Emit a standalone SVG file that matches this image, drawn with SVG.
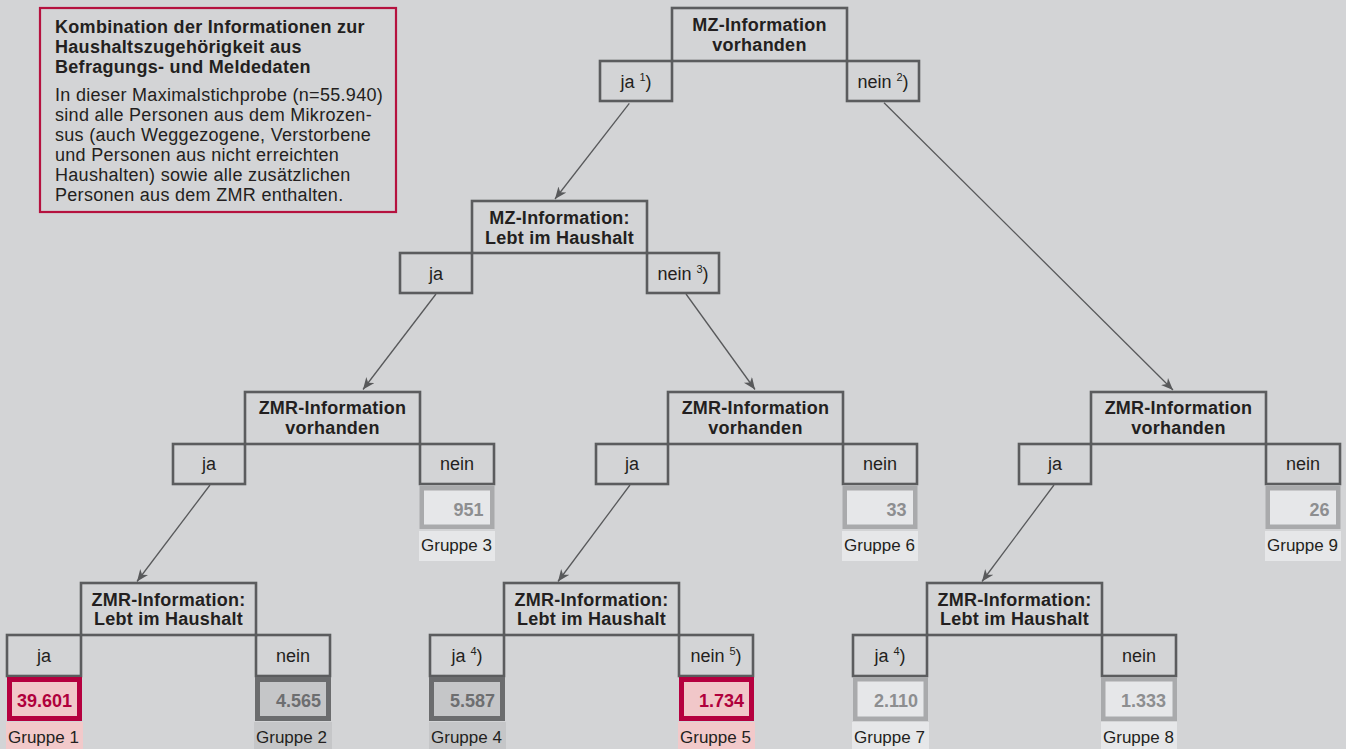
<svg xmlns="http://www.w3.org/2000/svg" width="1346" height="749" viewBox="0 0 1346 749">
<defs>
<style>
.bg{fill:#d3d4d6}
.box{fill:none;stroke:#5b5c5e;stroke-width:2.6}
.t{font-family:"Liberation Sans",Arial,Helvetica,sans-serif;fill:#231f20}
.b{font-weight:bold;font-size:18px;text-anchor:middle;letter-spacing:0.25px}
.r{font-size:18px;text-anchor:middle}
.sup{font-size:11px}
.num{font-family:"Liberation Sans",Arial,Helvetica,sans-serif;font-weight:bold;font-size:18px;text-anchor:end}
.grp{font-family:"Liberation Sans",Arial,Helvetica,sans-serif;font-size:17px;fill:#231f20}
.info{fill:none;stroke:#b5123f;stroke-width:2.2}
.it{font-family:"Liberation Sans",Arial,Helvetica,sans-serif;font-size:18px;fill:#231f20;letter-spacing:0.3px}
.red .o{fill:#f1c7c9;stroke:#b5003f;stroke-width:5}
.red .l{fill:#f2c9ca}
.red .num{fill:#b0003c}
.dark .o{fill:#c5c6c8;stroke:#6b6c6e;stroke-width:5}
.dark .l{fill:#c5c6c8}
.dark .num{fill:#6d6e70}
.light .o{fill:#e6e7e9;stroke:#a9aaac;stroke-width:4.5}
.light .l{fill:#e6e7e9}
.light .num{fill:#8d8e90}
.conn line{stroke:#58595b;stroke-width:1.3;fill:none}
</style>
<marker id="arr" markerUnits="userSpaceOnUse" markerWidth="13" markerHeight="11" refX="12" refY="5" orient="auto">
<path d="M0,0 L12,5 L0,10 L3.5,5 Z" fill="#58595b"/>
</marker>
</defs>
<rect class="bg" x="0" y="0" width="1346" height="749"/>

<g id="info">
<rect class="info" x="40" y="8" width="356" height="204"/>
<text class="it" font-weight="bold" x="55" y="32.5">Kombination der Informationen zur</text>
<text class="it" font-weight="bold" x="55" y="52.5">Haushaltszugehörigkeit aus</text>
<text class="it" font-weight="bold" x="55" y="72.5">Befragungs- und Meldedaten</text>
<text class="it" x="55" y="100.5">In dieser Maximalstichprobe (n=55.940)</text>
<text class="it" x="55" y="120.5">sind alle Personen aus dem Mikrozen-</text>
<text class="it" x="55" y="140.5">sus (auch Weggezogene, Verstorbene</text>
<text class="it" x="55" y="160.5">und Personen aus nicht erreichten</text>
<text class="it" x="55" y="180.5">Haushalten) sowie alle zusätzlichen</text>
<text class="it" x="55" y="200.5">Personen aus dem ZMR enthalten.</text>
</g>

<g id="connectors" class="conn">
<line x1="629.3" y1="103.3" x2="555" y2="199" marker-end="url(#arr)"/>
<line x1="884" y1="102.7" x2="1173" y2="390" marker-end="url(#arr)"/>
<line x1="436" y1="294" x2="363" y2="389.5" marker-end="url(#arr)"/>
<line x1="686" y1="294" x2="755" y2="389.5" marker-end="url(#arr)"/>
<line x1="210" y1="485" x2="137" y2="581.5" marker-end="url(#arr)"/>
<line x1="630" y1="485" x2="558" y2="581.5" marker-end="url(#arr)"/>
<line x1="1054" y1="485" x2="982" y2="581.5" marker-end="url(#arr)"/>
</g>

<g id="node-mz-vorhanden">
<rect class="box" x="672" y="8" width="175" height="53"/>
<text class="t b" x="759.5" y="31">MZ-Information</text>
<text class="t b" x="759.5" y="51">vorhanden</text>
<rect class="box" x="600" y="61" width="72" height="40"/>
<text class="t r" x="636" y="87.5">ja <tspan class="sup" dy="-7">1</tspan><tspan dy="7">)</tspan></text>
<rect class="box" x="847" y="61" width="72" height="40"/>
<text class="t r" x="883" y="87.5">nein <tspan class="sup" dy="-7">2</tspan><tspan dy="7">)</tspan></text>
</g>

<g id="node-mz-lebt">
<rect class="box" x="472" y="201" width="175" height="52"/>
<text class="t b" x="559.5" y="224">MZ-Information:</text>
<text class="t b" x="559.5" y="243.5">Lebt im Haushalt</text>
<rect class="box" x="400" y="253" width="72" height="40"/>
<text class="t r" x="436" y="279.5">ja</text>
<rect class="box" x="647" y="253" width="72" height="40"/>
<text class="t r" x="683" y="279.5">nein <tspan class="sup" dy="-7">3</tspan><tspan dy="7">)</tspan></text>
</g>

<g id="node-zmr-vorhanden-1">
<rect class="box" x="245" y="392" width="175" height="52"/>
<text class="t b" x="332.5" y="413.5">ZMR-Information</text>
<text class="t b" x="332.5" y="433.5">vorhanden</text>
<rect class="box" x="173" y="444" width="72" height="40"/>
<text class="t r" x="209" y="469.5">ja</text>
<rect class="box" x="420" y="444" width="74" height="40"/>
<text class="t r" x="457" y="469.5">nein</text>
</g>
<g id="gruppe-3" class="light">
<rect class="o" x="421.75" y="488.25" width="70.5" height="38.5"/>
<text class="num" x="483.5" y="515.5">951</text>
<rect class="l" x="419" y="531" width="76" height="30"/>
<text class="grp" x="421" y="551">Gruppe 3</text>
</g>

<g id="node-zmr-vorhanden-2">
<rect class="box" x="668" y="392" width="175" height="52"/>
<text class="t b" x="755.5" y="413.5">ZMR-Information</text>
<text class="t b" x="755.5" y="433.5">vorhanden</text>
<rect class="box" x="596" y="444" width="72" height="40"/>
<text class="t r" x="632" y="469.5">ja</text>
<rect class="box" x="843" y="444" width="74" height="40"/>
<text class="t r" x="880" y="469.5">nein</text>
</g>
<g id="gruppe-6" class="light">
<rect class="o" x="844.75" y="488.25" width="70.5" height="38.5"/>
<text class="num" x="906.5" y="515.5">33</text>
<rect class="l" x="842" y="531" width="76" height="30"/>
<text class="grp" x="844" y="551">Gruppe 6</text>
</g>

<g id="node-zmr-vorhanden-3">
<rect class="box" x="1091" y="392" width="175" height="52"/>
<text class="t b" x="1178.5" y="413.5">ZMR-Information</text>
<text class="t b" x="1178.5" y="433.5">vorhanden</text>
<rect class="box" x="1019" y="444" width="72" height="40"/>
<text class="t r" x="1055" y="469.5">ja</text>
<rect class="box" x="1266" y="444" width="74" height="40"/>
<text class="t r" x="1303" y="469.5">nein</text>
</g>
<g id="gruppe-9" class="light">
<rect class="o" x="1267.75" y="488.25" width="70.5" height="38.5"/>
<text class="num" x="1329.5" y="515.5">26</text>
<rect class="l" x="1265" y="531" width="76" height="30"/>
<text class="grp" x="1267" y="551">Gruppe 9</text>
</g>

<g id="node-zmr-lebt-1">
<rect class="box" x="81" y="583" width="175" height="52"/>
<text class="t b" x="168.5" y="605.5">ZMR-Information:</text>
<text class="t b" x="168.5" y="625">Lebt im Haushalt</text>
<rect class="box" x="7" y="635" width="74" height="41"/>
<text class="t r" x="44" y="661.5">ja</text>
<rect class="box" x="256" y="635" width="74" height="41"/>
<text class="t r" x="293" y="661.5">nein</text>
</g>
<g id="gruppe-1" class="red">
<rect class="o" x="9.5" y="679.5" width="70" height="39"/>
<text class="num" x="72" y="707">39.601</text>
<rect class="l" x="6" y="722" width="77" height="27"/>
<text class="grp" x="8" y="743">Gruppe 1</text>
</g>
<g id="gruppe-2" class="dark">
<rect class="o" x="257.5" y="679.5" width="71" height="39"/>
<text class="num" x="321" y="707">4.565</text>
<rect class="l" x="254" y="722" width="78" height="27"/>
<text class="grp" x="256" y="743">Gruppe 2</text>
</g>

<g id="node-zmr-lebt-2">
<rect class="box" x="504" y="583" width="175" height="52"/>
<text class="t b" x="591.5" y="605.5">ZMR-Information:</text>
<text class="t b" x="591.5" y="625">Lebt im Haushalt</text>
<rect class="box" x="430" y="635" width="74" height="41"/>
<text class="t r" x="467" y="661.5">ja <tspan class="sup" dy="-7">4</tspan><tspan dy="7">)</tspan></text>
<rect class="box" x="679" y="635" width="74" height="41"/>
<text class="t r" x="716" y="661.5">nein <tspan class="sup" dy="-7">5</tspan><tspan dy="7">)</tspan></text>
</g>
<g id="gruppe-4" class="dark">
<rect class="o" x="431.5" y="679.5" width="71" height="39"/>
<text class="num" x="495" y="707">5.587</text>
<rect class="l" x="429" y="722" width="77" height="27"/>
<text class="grp" x="431" y="743">Gruppe 4</text>
</g>
<g id="gruppe-5" class="red">
<rect class="o" x="681.5" y="679.5" width="70" height="39"/>
<text class="num" x="744" y="707">1.734</text>
<rect class="l" x="678" y="722" width="77" height="27"/>
<text class="grp" x="680" y="743">Gruppe 5</text>
</g>

<g id="node-zmr-lebt-3">
<rect class="box" x="927" y="583" width="175" height="52"/>
<text class="t b" x="1014.5" y="605.5">ZMR-Information:</text>
<text class="t b" x="1014.5" y="625">Lebt im Haushalt</text>
<rect class="box" x="853" y="635" width="74" height="41"/>
<text class="t r" x="890" y="661.5">ja <tspan class="sup" dy="-7">4</tspan><tspan dy="7">)</tspan></text>
<rect class="box" x="1102" y="635" width="74" height="41"/>
<text class="t r" x="1139" y="661.5">nein</text>
</g>
<g id="gruppe-7" class="light">
<rect class="o" x="855.25" y="679.25" width="70.5" height="39.5"/>
<text class="num" x="918" y="707">2.110</text>
<rect class="l" x="852" y="722" width="77" height="27"/>
<text class="grp" x="854" y="743">Gruppe 7</text>
</g>
<g id="gruppe-8" class="light">
<rect class="o" x="1103.25" y="679.25" width="71.5" height="39.5"/>
<text class="num" x="1166" y="707">1.333</text>
<rect class="l" x="1101" y="722" width="76" height="27"/>
<text class="grp" x="1103" y="743">Gruppe 8</text>
</g>
</svg>
